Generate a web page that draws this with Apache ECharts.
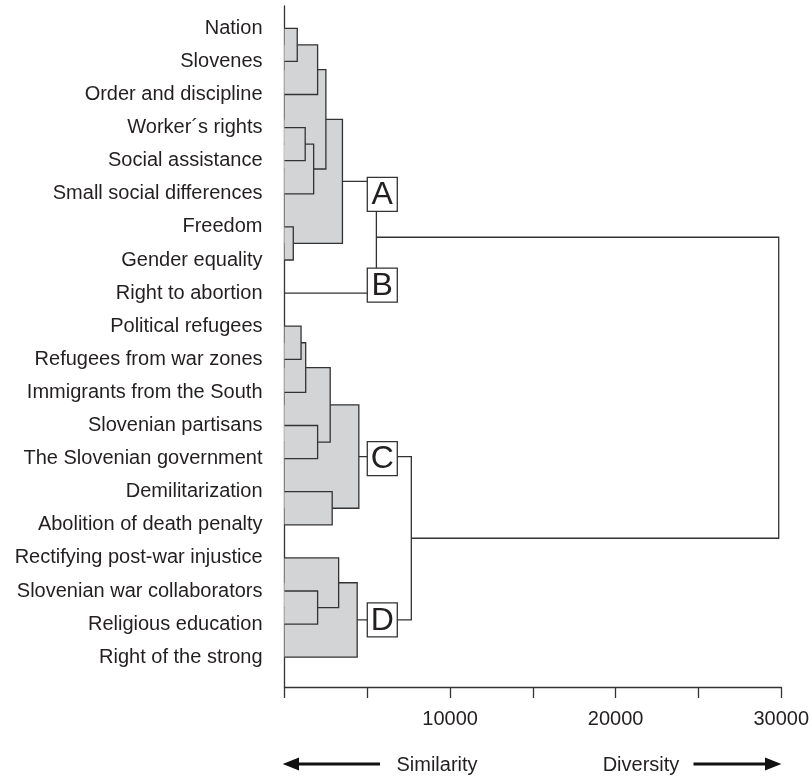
<!DOCTYPE html>
<html><head><meta charset="utf-8">
<script src="https://cdn.jsdelivr.net/npm/echarts@6/dist/echarts.min.js"></script>
<style>html,body{margin:0;padding:0;background:#fff}#c{width:812px;height:779px}</style>
</head><body><div id="c"></div>
<script>
// Leaves (top to bottom)
const labels = [
  'Nation','Slovenes','Order and discipline','Worker\u00b4s rights','Social assistance',
  'Small social differences','Freedom','Gender equality','Right to abortion','Political refugees',
  'Refugees from war zones','Immigrants from the South','Slovenian partisans','The Slovenian government',
  'Demilitarization','Abolition of death penalty','Rectifying post-war injustice',
  'Slovenian war collaborators','Religious education','Right of the strong'
];
// Merges: [child1, child2, distance]; leaves are 0..19, merge k gets id 20+k
const merges = [
  [0, 1, 770],     // 20
  [20, 2, 2000],   // 21
  [3, 4, 1250],    // 22
  [22, 5, 1760],   // 23
  [21, 23, 2500],  // 24
  [6, 7, 530],     // 25
  [24, 25, 3500],  // 26  A
  [9, 10, 1000],   // 27
  [27, 11, 1280],  // 28
  [12, 13, 2000],  // 29
  [28, 29, 2760],  // 30
  [14, 15, 2880],  // 31
  [30, 31, 4490],  // 32  C
  [17, 18, 2000],  // 33
  [16, 33, 3270],  // 34
  [34, 19, 4390],  // 35  D
  [26, 8, 5550],   // 36  A+B
  [32, 35, 7660],  // 37  C+D
  [36, 37, 29850]  // 38  root
];
const clusterNames = ['A', 'B', 'C', 'D'];
const clusterNodes = [26, 8, 32, 35];
const xTickValues = [0, 5000, 10000, 15000, 20000, 25000, 30000];
const xLabelValues = [10000, 20000, 30000];

const n = labels.length;
const pos = labels.map((_, i) => i);
const hgt = labels.map(() => 0);
merges.forEach(([a, b, h]) => { pos.push((pos[a] + pos[b]) / 2); hgt.push(h); });

const filled = new Set();
function mark(id) { if (id >= n) { filled.add(id); const m = merges[id - n]; mark(m[0]); mark(m[1]); } }
clusterNodes.forEach(mark);

const order = merges.map((_, k) => k).sort((p, q) => merges[q][2] - merges[p][2]);

const LINE = '#333333', FILL = '#d3d4d6', TEXT = '#231f20';
const FONT = '"Liberation Sans", Arial, Helvetica, sans-serif';

const chart = echarts.init(document.getElementById('c'), null, { renderer: 'canvas' });

function renderMerge(params, api) {
  const k = order[params.dataIndex];
  const [a, b, h] = merges[k];
  const id = n + k;
  const c = (x, y) => api.coord([x, y]);
  if (filled.has(id)) {
    const p0 = c(0, pos[a]), p1 = c(h, pos[a]), p2 = c(h, pos[b]), p3 = c(0, pos[b]);
    return {
      type: 'group',
      children: [
        { type: 'polygon', shape: { points: [p0, p1, p2, p3] }, style: { fill: FILL, stroke: null } },
        { type: 'polyline', shape: { points: [p0, p1, p2, p3] }, style: { stroke: LINE, lineWidth: 1.3, fill: null } }
      ]
    };
  }
  const pts = [c(hgt[a], pos[a]), c(h, pos[a]), c(h, pos[b]), c(hgt[b], pos[b])];
  return { type: 'polyline', shape: { points: pts }, style: { stroke: LINE, lineWidth: 1.3, fill: null } };
}

const boxOffsets = [13, -8, 2, 0];
function renderBox(params, api) {
  const i = params.dataIndex;
  const node = clusterNodes[i];
  const p = api.coord([5000, pos[node]]);
  const w = 30, hh = 34;
  const cy = p[1] + boxOffsets[i];
  return {
    type: 'group',
    children: [
      { type: 'rect', shape: { x: p[0], y: cy - hh / 2, width: w, height: hh },
        style: { fill: '#fff', stroke: LINE, lineWidth: 1.3 } },
      { type: 'text', style: { text: clusterNames[i], x: p[0] + w / 2, y: cy + 1, align: 'center', verticalAlign: 'middle',
        font: '32px ' + FONT, fill: TEXT } }
    ]
  };
}

chart.setOption({
  animation: false,
  backgroundColor: '#fff',
  grid: { left: 284.5, right: 29.6, top: 6, bottom: 92, containLabel: false },
  xAxis: {
    type: 'value', min: 0, max: 30000, interval: 5000, position: 'bottom',
    axisLine: { show: true, onZero: false, lineStyle: { color: LINE, width: 1.3 } },
    axisTick: { show: true, length: 11, lineStyle: { color: LINE, width: 1.3 }, customValues: xTickValues },
    axisLabel: { customValues: xLabelValues, formatter: v => String(Math.round(v)),
      fontSize: 20, fontFamily: FONT, color: TEXT, margin: 22 },
    splitLine: { show: false }
  },
  yAxis: {
    type: 'value', inverse: true, min: -0.674, max: 19.9, position: 'left',
    axisLine: { show: true, onZero: false, lineStyle: { color: LINE, width: 1.3 } },
    axisTick: { show: false },
    axisLabel: { customValues: labels.map((_, i) => i), formatter: v => labels[Math.round(v)],
      fontSize: 20, fontFamily: FONT, color: TEXT, margin: 22 },
    splitLine: { show: false }
  },
  series: [
    { type: 'custom', renderItem: renderMerge, z: 2, silent: true, clip: false,
      data: order.map(k => [merges[k][2], pos[n + k]]) },
    { type: 'custom', renderItem: renderBox, z: 3, silent: true, clip: false,
      data: clusterNodes.map(id => [5000, pos[id]]) }
  ],
  graphic: [
    { type: 'line', shape: { x1: 296, y1: 764, x2: 380, y2: 764 }, style: { stroke: '#111', lineWidth: 3 } },
    { type: 'polygon', shape: { points: [[282.7, 764], [299, 757.5], [299, 770.5]] }, style: { fill: '#111' } },
    { type: 'text', style: { text: 'Similarity', x: 437, y: 765, align: 'center', verticalAlign: 'middle', font: '20px ' + FONT, fill: TEXT } },
    { type: 'text', style: { text: 'Diversity', x: 641, y: 765, align: 'center', verticalAlign: 'middle', font: '20px ' + FONT, fill: TEXT } },
    { type: 'line', shape: { x1: 693.5, y1: 764, x2: 768, y2: 764 }, style: { stroke: '#111', lineWidth: 3 } },
    { type: 'polygon', shape: { points: [[781.4, 764], [765, 757.5], [765, 770.5]] }, style: { fill: '#111' } }
  ]
});
</script></body></html>
